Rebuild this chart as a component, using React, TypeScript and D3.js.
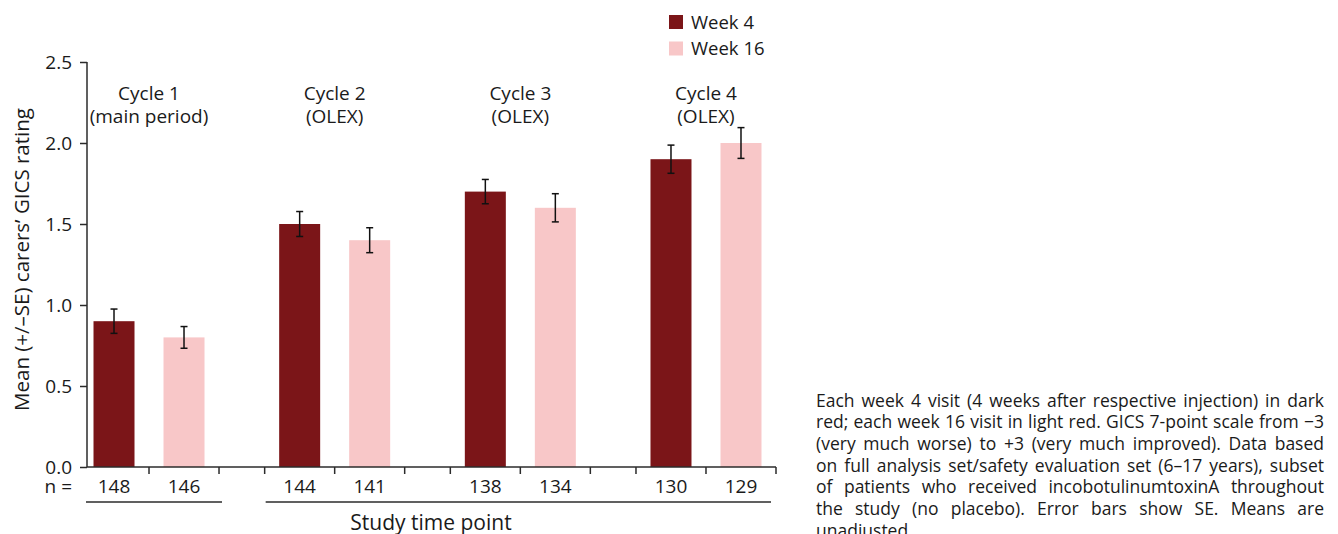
import React, { useEffect, useRef } from "react";
import * as d3 from "d3";

const cycles = ["Cycle 1", "Cycle 2", "Cycle 3", "Cycle 4"];
const cycleSub = ["(main period)", "(OLEX)", "(OLEX)", "(OLEX)"];
const week4 = [0.9, 1.5, 1.7, 1.9];
const week16 = [0.8, 1.4, 1.6, 2.0];
const se4 = [0.075, 0.077, 0.075, 0.087];
const se16 = [0.067, 0.077, 0.087, 0.095];
const n4 = [148, 144, 138, 130];
const n16 = [146, 141, 134, 129];
const yTicks = [0, 0.5, 1.0, 1.5, 2.0, 2.5];
const seriesNames = ["Week 4", "Week 16"];
const captionLines = [
  "Each week 4 visit (4 weeks after respective injection) in dark",
  "red; each week 16 visit in light red. GICS 7-point scale from −3",
  "(very much worse) to +3 (very much improved). Data based",
  "on full analysis set/safety evaluation set (6–17 years), subset",
  "of patients who received incobotulinumtoxinA throughout",
  "the study (no placebo). Error bars show SE. Means are",
  "unadjusted.",
];

const DARK = "#7b1518";
const LIGHT = "#f8c7c8";
const AXIS = "#2b2b2b";
const FONT = "'Open Sans', 'Noto Sans', sans-serif";

export default function App() {
  const ref = useRef<SVGSVGElement | null>(null);

  useEffect(() => {
    const svg = d3.select(ref.current);
    svg.selectAll("*").remove();

    const GAP = 0.652;
    const totalUnits = 8 + 3 * GAP;
    const x = d3.scaleLinear().domain([0, totalUnits]).range([79, 776]);
    const y = d3.scaleLinear().domain([0, 2.5]).range([467, 62]);
    const barW = 41;
    const groupStart = (g: number) => g * (2 + GAP);

    const g = svg.append("g").attr("font-family", FONT).attr("fill", "#1a1a1a");

    const bars: { c: number; i: number; v: number; se: number; n: number }[] = [];
    cycles.forEach((_, c) => {
      bars.push({ c, i: 0, v: week4[c], se: se4[c], n: n4[c] });
      bars.push({ c, i: 1, v: week16[c], se: se16[c], n: n16[c] });
    });
    const cx = (b: { c: number; i: number }) => x(groupStart(b.c) + b.i + 0.5);

    g.selectAll("rect.bar")
      .data(bars)
      .join("rect")
      .attr("x", (b) => cx(b) - barW / 2)
      .attr("width", barW)
      .attr("y", (b) => y(b.v))
      .attr("height", (b) => y(0) - y(b.v))
      .attr("fill", (b) => (b.i === 0 ? DARK : LIGHT));

    const eb = g.selectAll("g.err").data(bars).join("g").attr("stroke", "#111").attr("stroke-width", 1.5);
    eb.append("line")
      .attr("x1", cx).attr("x2", cx)
      .attr("y1", (b) => y(b.v + b.se)).attr("y2", (b) => y(b.v - b.se));
    eb.append("line")
      .attr("x1", (b) => cx(b) - 3.5).attr("x2", (b) => cx(b) + 3.5)
      .attr("y1", (b) => y(b.v + b.se)).attr("y2", (b) => y(b.v + b.se));
    eb.append("line")
      .attr("x1", (b) => cx(b) - 3.5).attr("x2", (b) => cx(b) + 3.5)
      .attr("y1", (b) => y(b.v - b.se)).attr("y2", (b) => y(b.v - b.se));

    const yAxis = d3.axisLeft(y).tickValues(yTicks).tickFormat(d3.format(".1f")).tickSize(7).tickPadding(8);
    const ya = g.append("g").attr("transform", `translate(${x(0) + 8},0)`).call(yAxis);
    ya.select(".domain").attr("stroke", AXIS).attr("stroke-width", 1.5).attr("d", `M-0,${y(2.5)}V${y(0)}`);
    ya.selectAll(".tick line").attr("stroke", AXIS).attr("stroke-width", 1.5);
    ya.selectAll(".tick text").attr("font-family", FONT).attr("font-size", 19).attr("fill", "#1a1a1a").attr("dy", "0.33em");

    const x0 = x(0) + 8;
    const xEnd = x(totalUnits);
    g.append("line").attr("x1", x0).attr("x2", xEnd).attr("y1", y(0)).attr("y2", y(0))
      .attr("stroke", AXIS).attr("stroke-width", 1.5);
    const xt: number[] = [];
    cycles.forEach((_, c) => {
      const s = groupStart(c);
      if (c > 0) xt.push(s);
      xt.push(s + 1, s + 2);
    });
    g.selectAll("line.xt").data(xt).join("line")
      .attr("x1", (u) => x(u)).attr("x2", (u) => x(u))
      .attr("y1", y(0)).attr("y2", y(0) + 7)
      .attr("stroke", AXIS).attr("stroke-width", 1.5);

    g.append("text").attr("x", 72).attr("y", 493).attr("text-anchor", "end").attr("font-size", 19).text("n =");
    g.selectAll("text.n").data(bars).join("text")
      .attr("x", cx).attr("y", 493).attr("text-anchor", "middle").attr("font-size", 19)
      .text((b) => String(b.n));

    g.append("line").attr("x1", x0 - 1).attr("x2", x(2) + 3).attr("y1", 502).attr("y2", 502)
      .attr("stroke", AXIS).attr("stroke-width", 1.5);
    g.append("line").attr("x1", x(groupStart(1)) + 1).attr("x2", xEnd - 5).attr("y1", 502).attr("y2", 502)
      .attr("stroke", AXIS).attr("stroke-width", 1.5);

    g.append("text").attr("x", 431).attr("y", 530).attr("text-anchor", "middle").attr("font-size", 21)
      .text("Study time point");

    cycles.forEach((cy, c) => {
      const mx = x(groupStart(c) + 1);
      g.append("text").attr("x", mx).attr("y", 100).attr("text-anchor", "middle").attr("font-size", 19).text(cy);
      g.append("text").attr("x", mx).attr("y", 123).attr("text-anchor", "middle").attr("font-size", 19).text(cycleSub[c]);
    });

    g.append("text")
      .attr("transform", `translate(29,${(y(0) + y(2.5)) / 2 - 5}) rotate(-90)`)
      .attr("text-anchor", "middle").attr("font-size", 20.5)
      .text("Mean (+/–SE) carers’ GICS rating");

    seriesNames.forEach((s, i) => {
      g.append("rect").attr("x", 669).attr("y", 15 + i * 26.5).attr("width", 14).attr("height", 14)
        .attr("fill", i === 0 ? DARK : LIGHT);
      g.append("text").attr("x", 691).attr("y", 28.5 + i * 26.5).attr("font-size", 18.5).text(s);
    });

    const capX = 816, capW = 508, capY0 = 406.5, lh = 21.7;
    const cap = g.append("g").attr("font-size", 17.5).attr("fill", "#1a1a1a");
    captionLines.forEach((line, li) => {
      const yy = capY0 + li * lh;
      const last = li === captionLines.length - 1;
      if (last) {
        cap.append("text").attr("x", capX).attr("y", yy).text(line);
        return;
      }
      const words = line.split(" ");
      const nodes = words.map((w) => cap.append("text").attr("y", yy).text(w));
      const widths = nodes.map((nd) => (nd.node() as SVGTextElement).getComputedTextLength());
      const sum = widths.reduce((a, b) => a + b, 0);
      const gap = (capW - sum) / (words.length - 1);
      if (gap < 2.5) {
        nodes.forEach((nd) => nd.remove());
        cap.append("text").attr("x", capX).attr("y", yy)
          .attr("textLength", capW).attr("lengthAdjust", "spacingAndGlyphs").text(line);
        return;
      }
      let px = capX;
      nodes.forEach((nd, k) => {
        nd.attr("x", px);
        px += widths[k] + gap;
      });
    });
  }, []);

  return (
    <svg ref={ref} width={1338} height={534} style={{ display: "block", position: "absolute", left: 0, top: 0, background: "#fff" }} />
  );
}
